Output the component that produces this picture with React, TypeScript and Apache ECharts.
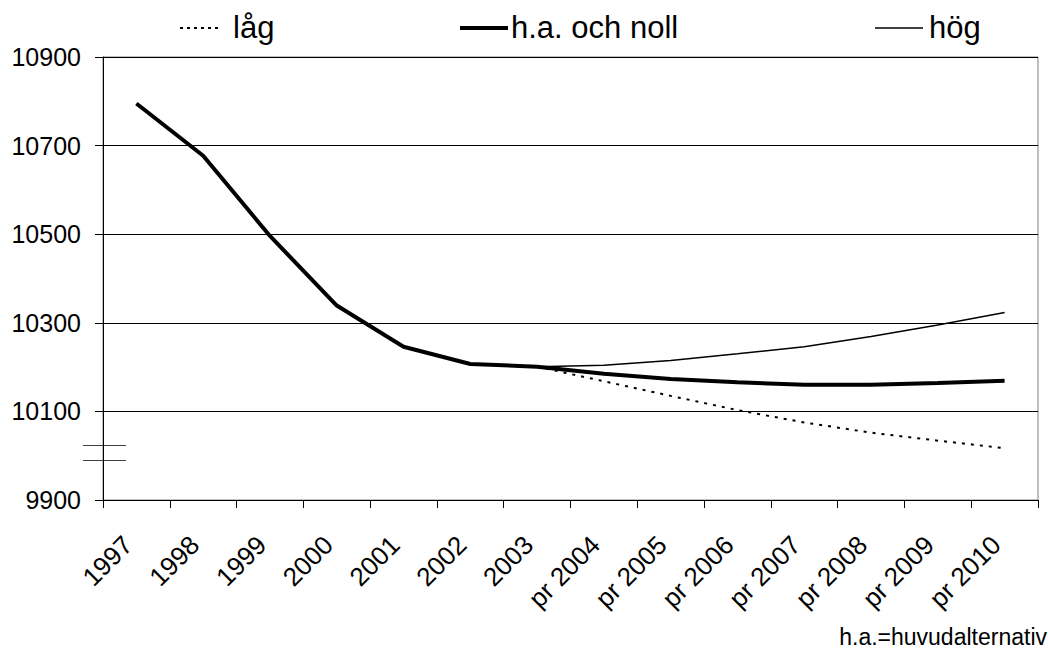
import React, { useEffect, useRef } from "react";
import * as echarts from "echarts";

const categories = ["1997", "1998", "1999", "2000", "2001", "2002", "2003", "pr 2004", "pr 2005", "pr 2006", "pr 2007", "pr 2008", "pr 2009", "pr 2010"];
const lagValues = [null, null, null, null, null, null, 10201, 10168, 10135, 10103, 10075, 10052, 10034, 10017];
const haValues = [10795, 10677, 10496, 10339, 10246, 10207, 10201, 10185, 10173, 10166, 10160, 10160, 10164, 10169];
const hogValues = [null, null, null, null, null, null, 10201, 10204, 10215, 10230, 10246, 10269, 10295, 10323];
const seriesNames = ["låg", "h.a. och noll", "hög"];
const yTicks = { min: 9900, max: 10900, interval: 200 };
const footnote = "h.a.=huvudalternativ";

const FONT = "'Liberation Sans', Arial, sans-serif";

const lagStyle = { color: "#000", width: 2, type: [3, 6] as number[] };
const haStyle = { color: "#000", width: 4 };
const hogStyle = { color: "#000", width: 1.5 };

export default function App() {
  const ref = useRef<HTMLDivElement>(null);
  useEffect(() => {
    if (!ref.current) return;
    const chart = echarts.init(ref.current, null, { renderer: "svg" });
    const legendY = 28;
    const legendFont = { fontSize: 31, fontFamily: FONT, fill: "#000", textVerticalAlign: "middle" as const };
    chart.setOption({
      animation: false,
      backgroundColor: "#fff",
      textStyle: { fontFamily: FONT },
      grid: { left: 103, right: 10, top: 57, bottom: 154, show: true, borderColor: "#808080", borderWidth: 1 },
      xAxis: {
        type: "category",
        data: categories,
        boundaryGap: true,
        axisLine: { lineStyle: { color: "#000", width: 1 } },
        axisTick: { show: true, length: 8, lineStyle: { color: "#000" } },
        axisLabel: { rotate: 45, fontSize: 26, color: "#000", margin: 32, padding: [0, 12, 0, 0], interval: 0, fontFamily: FONT },
        splitLine: { show: false },
      },
      yAxis: {
        type: "value",
        min: yTicks.min,
        max: yTicks.max,
        interval: yTicks.interval,
        axisLine: { show: true, lineStyle: { color: "#000", width: 1 } },
        axisTick: { show: true, length: 8, lineStyle: { color: "#000" } },
        axisLabel: { fontSize: 25, color: "#000", margin: 22, fontFamily: FONT, formatter: (v: number) => String(v) },
        splitLine: { show: true, lineStyle: { color: "#000", width: 1 } },
      },
      series: [
        { name: seriesNames[0], type: "line", data: lagValues, symbol: "none", lineStyle: lagStyle, itemStyle: { color: "#000" } },
        { name: seriesNames[1], type: "line", data: haValues, symbol: "none", lineStyle: haStyle, itemStyle: { color: "#000" }, z: 3 },
        { name: seriesNames[2], type: "line", data: hogValues, symbol: "none", lineStyle: hogStyle, itemStyle: { color: "#000" } },
      ],
      graphic: [
        // legend
        { type: "line", shape: { x1: 180, y1: legendY, x2: 218, y2: legendY }, style: { stroke: "#000", lineWidth: 2, lineDash: [3, 4] } },
        { type: "text", x: 233, y: legendY - 1, style: { text: seriesNames[0], ...legendFont } },
        { type: "line", shape: { x1: 460, y1: legendY, x2: 508, y2: legendY }, style: { stroke: "#000", lineWidth: 4 } },
        { type: "text", x: 511, y: legendY - 1, style: { text: seriesNames[1], ...legendFont } },
        { type: "line", shape: { x1: 875, y1: legendY, x2: 923, y2: legendY }, style: { stroke: "#000", lineWidth: 1.5 } },
        { type: "text", x: 929, y: legendY - 1, style: { text: seriesNames[2], ...legendFont } },
        // axis break marks
        { type: "line", shape: { x1: 83, y1: 445.5, x2: 126, y2: 445.5 }, style: { stroke: "#404040", lineWidth: 1 } },
        { type: "line", shape: { x1: 83, y1: 460.5, x2: 126, y2: 460.5 }, style: { stroke: "#404040", lineWidth: 1 } },
        // footnote
        {
          type: "text",
          x: 1047,
          y: 637,
          style: { text: footnote, fontSize: 23, fontFamily: FONT, fill: "#000", textAlign: "right", textVerticalAlign: "middle" },
        },
      ],
    });
    return () => chart.dispose();
  }, []);
  return <div ref={ref} style={{ position: "fixed", left: 0, top: 0, width: 1048, height: 654 }} />;
}
